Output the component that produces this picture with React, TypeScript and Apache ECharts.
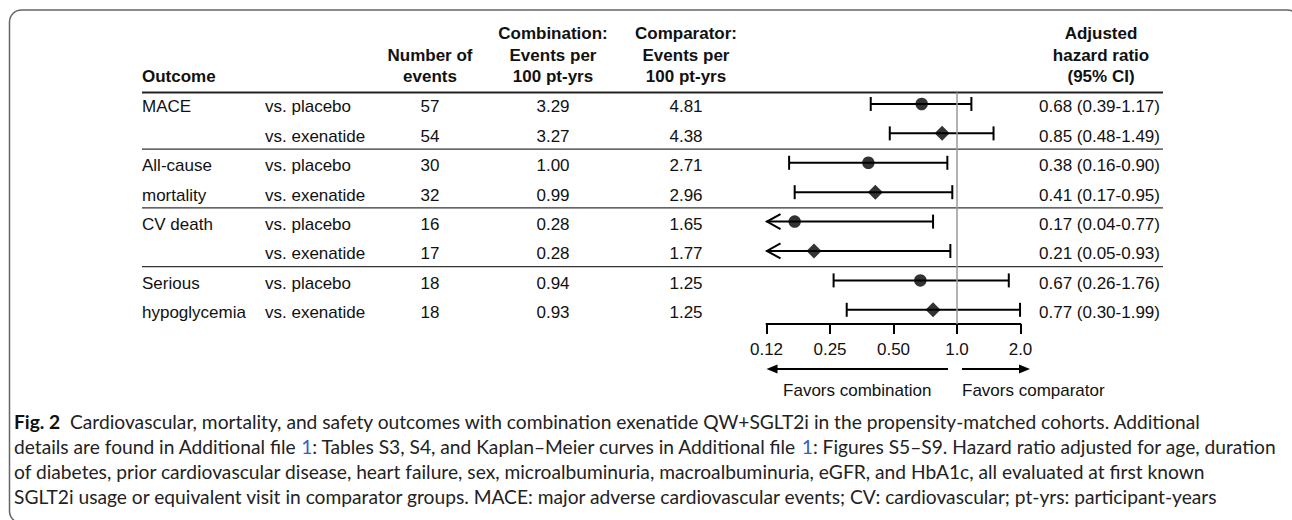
import React, { useEffect, useRef } from "react";
import * as echarts from "echarts";

// ---------- data ----------
const outcomes = ["MACE", "", "All-cause", "mortality", "CV death", "", "Serious", "hypoglycemia"];
const comparisons = [
  "vs. placebo", "vs. exenatide", "vs. placebo", "vs. exenatide",
  "vs. placebo", "vs. exenatide", "vs. placebo", "vs. exenatide",
];
const eventCounts = [57, 54, 30, 32, 16, 17, 18, 18];
const combinationRates = ["3.29", "3.27", "1.00", "0.99", "0.28", "0.28", "0.94", "0.93"];
const comparatorRates = ["4.81", "4.38", "2.71", "2.96", "1.65", "1.77", "1.25", "1.25"];
const hazardRatios = [0.68, 0.85, 0.38, 0.41, 0.17, 0.21, 0.67, 0.77];
const ciLower = [0.39, 0.48, 0.16, 0.17, 0.04, 0.05, 0.26, 0.30];
const ciUpper = [1.17, 1.49, 0.90, 0.95, 0.77, 0.93, 1.76, 1.99];
const hrLabels = [
  "0.68 (0.39-1.17)", "0.85 (0.48-1.49)", "0.38 (0.16-0.90)", "0.41 (0.17-0.95)",
  "0.17 (0.04-0.77)", "0.21 (0.05-0.93)", "0.67 (0.26-1.76)", "0.77 (0.30-1.99)",
];
const tickValues = [0.125, 0.25, 0.5, 1, 2];
const tickLabels = ["0.12", "0.25", "0.50", "1.0", "2.0"];
const groupEnds = [1, 3, 5];

const captionLines = [
  "{b|Fig. 2}  Cardiovascular, mortality, and safety outcomes with combination exenatide QW+SGLT2i in the propensity-matched cohorts. Additional",
  "details are found in Additional file {l|1}: Tables S3, S4, and Kaplan\u2013Meier curves in Additional file {l|1}: Figures S5\u2013S9. Hazard ratio adjusted for age, duration",
  "of diabetes, prior cardiovascular disease, heart failure, sex, microalbuminuria, macroalbuminuria, eGFR, and HbA1c, all evaluated at first known",
  "SGLT2i usage or equivalent visit in comparator groups. MACE: major adverse cardiovascular events; CV: cardiovascular; pt-yrs: participant-years",
];

// ---------- layout ----------
const GRID_LEFT = 766.5;
const GRID_W = 254;
const GRID_TOP = 92.5;
const GRID_H = 231.5;
const Y_MIN = -0.39;
const Y_MAX = 7.483;
const X_MIN = -3;
const X_MAX = 1;

const FONT = "Arial, Liberation Sans, Helvetica, sans-serif";
const CAP_FONT = "Lato, Noto Sans, sans-serif";
const CAP_SIZE = 19.2;

const rowY = (i: number) => GRID_TOP + ((i - Y_MIN) / (Y_MAX - Y_MIN)) * GRID_H;
const xPx = (v: number) => GRID_LEFT + ((Math.log2(v) - X_MIN) / (X_MAX - X_MIN)) * GRID_W;

function txt(x: number, y: number, text: string, o: any = {}) {
  return {
    type: "text",
    x,
    y,
    silent: true,
    style: {
      text,
      fill: o.fill || "#111",
      fontSize: o.size || 17,
      fontFamily: o.family || FONT,
      fontWeight: o.bold ? "bold" : "normal",
      align: o.align || "left",
      textAlign: o.align || "left",
      verticalAlign: "middle",
      textVerticalAlign: "middle",
      rich: o.rich,
    },
  };
}

function hline(x1: number, x2: number, y: number, w: number, color: string) {
  return {
    type: "line",
    silent: true,
    shape: { x1, y1: y, x2, y2: y },
    style: { stroke: color, lineWidth: w },
  };
}

export default function App() {
  const ref = useRef<HTMLDivElement>(null);

  useEffect(() => {
    if (!ref.current) return;
    const chart = echarts.init(ref.current, undefined, { renderer: "svg" });

    const graphics: any[] = [];
    // frame
    graphics.push({
      type: "rect",
      silent: true,
      shape: { x: 9.5, y: 10, width: 1290, height: 513, r: 12 },
      style: { fill: "none", stroke: "#666", lineWidth: 1.5 },
    });

    // headers
    const H1 = 33.5, H2 = 55, H3 = 76.5;
    graphics.push(txt(142, H3, "Outcome", { bold: true }));
    graphics.push(txt(430, H2, "Number of", { bold: true, align: "center" }));
    graphics.push(txt(430, H3, "events", { bold: true, align: "center" }));
    graphics.push(txt(553, H1, "Combination:", { bold: true, align: "center" }));
    graphics.push(txt(553, H2, "Events per", { bold: true, align: "center" }));
    graphics.push(txt(553, H3, "100 pt-yrs", { bold: true, align: "center" }));
    graphics.push(txt(686, H1, "Comparator:", { bold: true, align: "center" }));
    graphics.push(txt(686, H2, "Events per", { bold: true, align: "center" }));
    graphics.push(txt(686, H3, "100 pt-yrs", { bold: true, align: "center" }));
    graphics.push(txt(1101, H1, "Adjusted", { bold: true, align: "center" }));
    graphics.push(txt(1101, H2, "hazard ratio", { bold: true, align: "center" }));
    graphics.push(txt(1101, H3, "(95% CI)", { bold: true, align: "center" }));

    // header rule and group separators
    graphics.push(hline(142, 1163, GRID_TOP, 2, "#222"));
    groupEnds.forEach((g) => {
      const y = (rowY(g) + rowY(g + 1)) / 2 + 1;
      graphics.push(hline(142, 1163, y, 1.3, "#333"));
    });

    // table rows
    outcomes.forEach((o, i) => {
      const y = rowY(i) + 3;
      if (o) graphics.push(txt(142, y, o));
      graphics.push(txt(265, y, comparisons[i]));
      graphics.push(txt(430, y, String(eventCounts[i]), { align: "center" }));
      graphics.push(txt(553, y, combinationRates[i], { align: "center" }));
      graphics.push(txt(686, y, comparatorRates[i], { align: "center" }));
      graphics.push(txt(1039, y, hrLabels[i]));
    });

    // favors arrows
    const ay = 369;
    const leftTip = xPx(tickValues[0]);
    graphics.push(hline(leftTip + 10, 948, ay, 2, "#000"));
    graphics.push({
      type: "polygon",
      silent: true,
      shape: { points: [[leftTip, ay], [leftTip + 11, ay - 4.5], [leftTip + 11, ay + 4.5]] },
      style: { fill: "#000" },
    });
    const rightTip = 1030;
    graphics.push(hline(962, rightTip - 10, ay, 2, "#000"));
    graphics.push({
      type: "polygon",
      silent: true,
      shape: { points: [[rightTip, ay], [rightTip - 11, ay - 4.5], [rightTip - 11, ay + 4.5]] },
      style: { fill: "#000" },
    });
    graphics.push(txt((leftTip + 948) / 2, 390, "Favors combination", { align: "center" }));
    graphics.push(txt(962, 390, "Favors comparator"));

    // caption
    const capY = [421, 446, 471, 496];
    captionLines.forEach((line, i) => {
      graphics.push(
        txt(14, capY[i], line, {
          family: CAP_FONT,
          size: CAP_SIZE,
          fill: "#222",
          rich: {
            b: { fontFamily: CAP_FONT, fontSize: CAP_SIZE, fontWeight: "bold", fill: "#111", color: "#111" },
            l: { fontFamily: CAP_FONT, fontSize: CAP_SIZE, fill: "#2f5fc8", color: "#2f5fc8" },
          },
        })
      );
    });

    const ciData = hazardRatios.map((_, i) => [Math.log2(ciLower[i]), Math.log2(ciUpper[i]), i]);
    const placeboPts: number[][] = [];
    const exenPts: number[][] = [];
    hazardRatios.forEach((h, i) => {
      (i % 2 === 0 ? placeboPts : exenPts).push([Math.log2(h), i]);
    });

    chart.setOption({
      animation: false,
      grid: { left: GRID_LEFT, width: GRID_W, top: GRID_TOP, height: GRID_H },
      xAxis: {
        type: "value",
        min: X_MIN,
        max: X_MAX,
        interval: 1,
        axisLine: { show: true, onZero: false, lineStyle: { color: "#000", width: 2 } },
        axisTick: { show: true, inside: false, length: 10, lineStyle: { color: "#000", width: 2 } },
        splitLine: { show: false },
        axisLabel: {
          margin: 17,
          fontSize: 17,
          fontFamily: FONT,
          color: "#111",
          formatter: (v: number) => {
            const idx = tickValues.findIndex((t) => Math.abs(Math.log2(t) - v) < 1e-6);
            return idx >= 0 ? tickLabels[idx] : "";
          },
        },
      },
      yAxis: { type: "value", min: Y_MIN, max: Y_MAX, inverse: true, show: false },
      graphic: { elements: graphics },
      series: [
        {
          type: "custom",
          name: "ci",
          clip: false,
          silent: true,
          z: 2,
          encode: { x: [0, 1], y: 2 },
          data: ciData,
          markLine: {
            silent: true,
            symbol: ["none", "none"],
            label: { show: false },
            lineStyle: { color: "#9a9a9a", width: 1.5, type: "solid" },
            data: [{ xAxis: 0 }],
          },
          renderItem: (_p: any, api: any) => {
            const lo = api.value(0);
            const hi = api.value(1);
            const row = api.value(2);
            const clipped = lo < X_MIN;
            const s = api.coord([clipped ? X_MIN : lo, row]);
            const e = api.coord([hi, row]);
            const st = { stroke: "#000", lineWidth: 2, fill: "none" };
            const children: any[] = [
              { type: "line", shape: { x1: s[0], y1: s[1], x2: e[0], y2: e[1] }, style: st },
              { type: "line", shape: { x1: e[0], y1: e[1] - 7, x2: e[0], y2: e[1] + 7 }, style: st },
            ];
            if (clipped) {
              children.push({
                type: "polyline",
                shape: { points: [[s[0] + 14, s[1] - 7.5], [s[0] + 0.5, s[1]], [s[0] + 14, s[1] + 7.5]] },
                style: st,
              });
            } else {
              children.push({
                type: "line",
                shape: { x1: s[0], y1: s[1] - 7, x2: s[0], y2: s[1] + 7 },
                style: st,
              });
            }
            return { type: "group", children };
          },
        },
        {
          type: "scatter",
          name: "vs. placebo",
          symbol: "circle",
          symbolSize: 12.5,
          z: 5,
          silent: true,
          itemStyle: { color: "#000" },
          data: placeboPts,
        },
        {
          type: "scatter",
          name: "vs. exenatide",
          symbol: "diamond",
          symbolSize: [15, 15],
          z: 5,
          silent: true,
          itemStyle: { color: "#000" },
          data: exenPts,
        },
      ],
    });

    return () => chart.dispose();
  }, []);

  return (
    <div
      ref={ref}
      style={{ position: "absolute", left: 0, top: 0, width: 1292, height: 520, background: "#fff" }}
    />
  );
}
